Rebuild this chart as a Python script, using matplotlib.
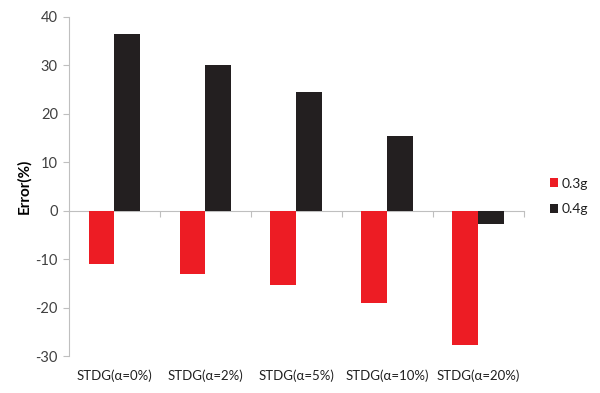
import numpy as np
import matplotlib
matplotlib.use('Agg')
import matplotlib.pyplot as plt

plt.rcParams['font.family'] = ['Lato', 'DejaVu Sans']
plt.rcParams['axes.unicode_minus'] = False

categories = ['STDG(α=0%)', 'STDG(α=2%)', 'STDG(α=5%)', 'STDG(α=10%)', 'STDG(α=20%)']
series_names = ['0.3g', '0.4g']
err_03g = [-11.0, -13.0, -15.4, -19.0, -27.7]
err_04g = [36.5, 30.0, 24.4, 15.5, -2.7]

red = '#ED1C24'
black = '#231F20'
grey = '#BFBFBF'

fig = plt.figure(figsize=(6, 3.93), dpi=100)
ax = fig.add_axes([0.115, 0.094, 0.758, 0.863])

x = np.arange(len(categories))
w = 0.285
ax.bar(x - w / 2, err_03g, w, color=red, label=series_names[0])
ax.bar(x + w / 2, err_04g, w, color=black, label=series_names[1])

ax.set_xlim(-0.5, len(categories) - 0.5)
ax.set_ylim(-30, 40)
ax.set_yticks(range(-30, 41, 10))

for s in ['top', 'right']:
    ax.spines[s].set_visible(False)
ax.spines['left'].set_color(grey)
ax.spines['bottom'].set_color(grey)
ax.spines['bottom'].set_position(('data', 0))
ax.spines['bottom'].set_zorder(0)

# boundary ticks on the zero line
ax.set_xticks(np.arange(0.5, len(categories), 1.0))
ax.tick_params(axis='x', length=4, color=grey, labelbottom=False, direction='out')
ax.tick_params(axis='y', length=4, color=grey, labelsize=10.5, labelcolor='#404040', pad=4)

# category labels below the plot
sec = ax.secondary_xaxis('bottom')
sec.set_xticks(x)
sec.set_xticklabels(categories)
sec.tick_params(length=0, labelsize=9.5, labelcolor='#202020', pad=10)
sec.spines['bottom'].set_visible(False)

ax.set_ylabel('Error(%)', fontsize=11, fontweight='bold', labelpad=3)

fig.legend(loc='center left', bbox_to_anchor=(0.895, 0.5), frameon=False,
           fontsize=10, handlelength=0.6, handleheight=0.6, handletextpad=0.3,
           labelspacing=1.0, labelcolor='#202020')

fig.savefig('out.png', dpi=100)
